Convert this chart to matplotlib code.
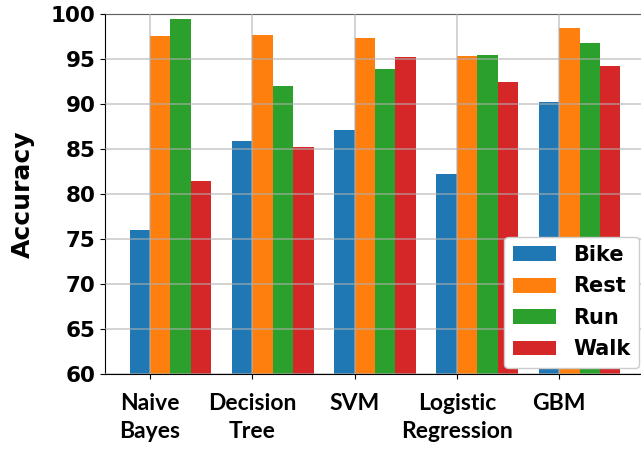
import numpy as np
import matplotlib.pyplot as plt

models = ["Naive\nBayes", "Decision\nTree", "SVM", "Logistic\nRegression", "GBM"]
activities = ["Bike", "Rest", "Run", "Walk"]
bike = [76.0, 85.9, 87.1, 82.2, 90.2]
rest = [97.6, 97.7, 97.3, 95.3, 98.4]
run = [99.4, 92.0, 93.9, 95.4, 96.8]
walk = [81.5, 85.2, 95.2, 92.4, 94.2]
colors = ['#1f77b4', '#ff7f0e', '#2ca02c', '#d62728']

fig = plt.figure(figsize=(6.41, 4.51), dpi=100)
# axes runs past the right edge, like the cropped original
ax = fig.add_axes([105 / 641, 77 / 451, 540 / 641, 360 / 451])

x = np.arange(len(models))
w = 0.2
for k, (name, vals) in enumerate(zip(activities, [bike, rest, run, walk])):
    ax.bar(x + (k - 0.5) * w, vals, w, color=colors[k], label=name)

ax.set_ylim(60, 100)
ax.set_xticks(x)
ax.set_xticklabels(models, fontsize=16.5, fontweight='bold', family=['Lato', 'DejaVu Sans'],
                   linespacing=1.45)
ax.tick_params(axis='x', pad=10)
ax.tick_params(axis='y', labelsize=15.5)
for t in ax.get_yticklabels():
    t.set_fontweight('bold')
    t.set_family('DejaVu Sans')
ax.set_ylabel('Accuracy', fontsize=18, fontweight='bold', family='DejaVu Sans', labelpad=11)

ax.set_axisbelow(False)
ax.grid(True, color='#b0b0b0', alpha=0.6, linewidth=1.3)

leg = ax.legend(loc='lower right', prop={'size': 15, 'weight': 'bold', 'family': 'DejaVu Sans'},
                borderaxespad=0.3, handlelength=2.1, labelspacing=0.55, framealpha=1)

fig.savefig('out.png', dpi=100)
